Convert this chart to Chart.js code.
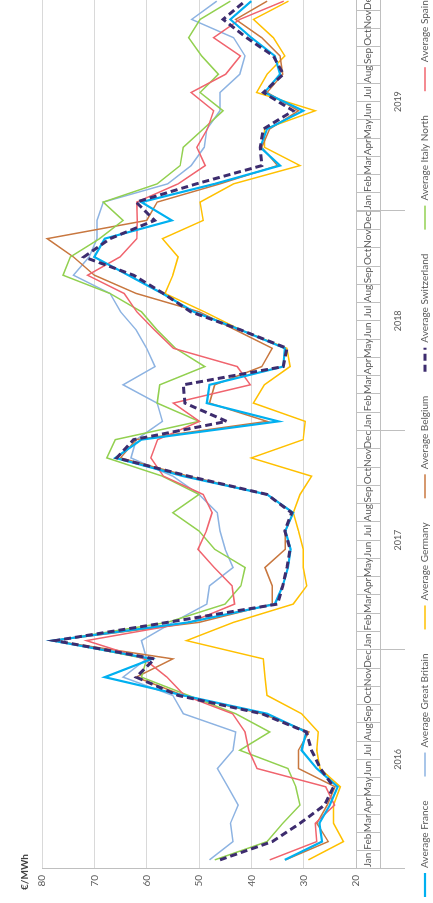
<!DOCTYPE html>
<html>
<head>
<meta charset="utf-8">
<script src="https://cdn.jsdelivr.net/npm/chart.js@4/dist/chart.umd.min.js"></script>
<style>
  html, body { margin: 0; padding: 0; background: #fff; overflow: hidden; }
  #wrap { position: relative; width: 433px; height: 903px; overflow: hidden; background: #fff; }
  #rot { position: absolute; left: 0; top: 0; width: 920px; height: 440px;
         transform-origin: 0 0; transform: translate(0px, 903px) rotate(-90deg); }
</style>
</head>
<body>
<div id="wrap"><div id="rot"><canvas id="c" width="920" height="440"></canvas></div></div>
<script>
// ---- data ----
const months = ['Jan','Feb','Mar','Apr','May','Jun','Jul','Aug','Sep','Oct','Nov','Dec'];
const years = ['2016','2017','2018','2019'];
const yTicks = [20, 30, 40, 50, 60, 70, 80];
const unitLabel = '€/MWh';
const seriesNames = ['Average France','Average Great Britain','Average Germany','Average Belgium','Average Switzerland','Average Italy North','Average Spain'];

const france = [33.6,26.5,27,25,23.5,27.5,30.4,29.5,37,53,68,59,
                78,52,35.5,34,33,32.5,33.5,32,37,53,66,61,
                34.8,48.5,48,33.9,33.6,42,51,57,63.5,70,68,55.2,
                61,47,34.5,38.3,37,30.1,37.5,34.5,35.5,40,44,40];
const greatBritain = [48,43.5,44,42.5,44.5,46.5,43.5,43,53,55,64.5,60,
                61,55,48.5,48,43.5,45,46,46.5,50,55,63,62,
                57,58,64.5,58.4,60,62,65,67,74,71,69.5,69.5,
                68.3,56,51.5,49,48.5,46,46,42.2,41.2,43.4,51.4,46.6];
const germany = [29.1,22.4,24.3,24.3,23,26.9,27.5,27.2,30.4,37,37.4,37.7,
                52.4,43.4,32,29.4,30.1,30.1,31,32,30.7,28.5,40,30.1,
                29.7,39.6,37.5,32.6,33.2,42,49,56.5,55,54,57,49.2,
                49.8,43.4,30.7,37.5,37.5,27.8,39,37,33.6,35.8,39.6,32.9];
const belgium = [33.5,25.3,27.5,25.5,24,31,31,29,38,53,62,55,
                78,50,36,36,37.4,33.5,33.5,32,37,52,65,62,
                37,48,47,38,36,43,50,62,70,74,79,60,
                58,46,35,38,36.5,31,37,34,34.5,38,43,37];
const switzerland = [46,36,30.7,26,24.3,26.8,28.5,29.5,38,54,62,58.5,
                77.5,56,35,34,33.2,32.6,33.6,32.3,37,52,65.7,62.5,
                44.7,52.7,53,33.9,33.2,42,51.6,56.8,62.5,72,67,58.5,
                62,50.5,38,38.3,37.7,32,37.7,33.9,35.8,40.9,45.4,41.2];
const italyNorth = [47,37,34,30.7,31.5,33,42.2,36.5,43,52,61,60,
                77.5,56,45,42,41.2,47,50,55,50,57,67.6,66,
                50,58,57.5,48.9,54.5,58,61,67,76,74.6,69,64.5,
                68.3,58,53.6,53,49.2,45.4,49.8,46.3,49.5,52,49.8,44];
const spain = [36.5,27.5,27.8,24.1,25.8,38.9,40.5,41.2,43.6,52.8,56.1,60.5,
                71.5,51.7,43.2,43.7,47.1,50.2,48.6,47.5,49.2,56.8,59.2,57.9,
                49.9,54.9,40.2,42.7,54.9,58.5,61.9,64.3,71.3,65.1,61.9,61.8,
                61.9,54.0,48.8,50.4,48.4,47.2,51.5,44.9,42.1,47.2,42.2,33.8];

const categoryLabels = years.flatMap(() => months);

// ---- styles ----
const FONT = 'Lato, "Liberation Sans", sans-serif';
const TXT = '#595959';
const AXIS = '#BFBFBF';

const styles = [
  { color: '#00B0F0', width: 2.2, dash: [], order: 1 },
  { color: '#8DB3E2', width: 1.5, dash: [], order: 6 },
  { color: '#FFC000', width: 1.5, dash: [], order: 5 },
  { color: '#C8773F', width: 1.5, dash: [], order: 4 },
  { color: '#3D2C6E', width: 3, dash: [7, 4], order: 0 },
  { color: '#92D050', width: 1.5, dash: [], order: 3 },
  { color: '#F0646E', width: 1.5, dash: [], order: 2 }
];
const seriesData = [france, greatBritain, germany, belgium, switzerland, italyNorth, spain];

const datasets = seriesNames.map((name, i) => ({
  label: name,
  data: seriesData[i],
  borderColor: styles[i].color,
  backgroundColor: styles[i].color,
  borderWidth: styles[i].width,
  borderDash: styles[i].dash,
  order: styles[i].order,
  pointRadius: 0,
  pointHoverRadius: 0,
  tension: 0,
  fill: false
}));

const axisBoxes = {
  id: 'axisBoxes',
  afterDraw(chart) {
    const { ctx, chartArea: a, scales: { x } } = chart;
    const half = (x.getPixelForValue(1) - x.getPixelForValue(0)) / 2;
    const r = v => Math.round(v) + 0.5;
    ctx.save();
    ctx.strokeStyle = AXIS;
    ctx.lineWidth = 1;
    ctx.beginPath();
    ctx.moveTo(a.left, r(380)); ctx.lineTo(a.right, r(380));
    for (let yi = 0; yi <= years.length; yi++) {
      const px = yi < years.length ? x.getPixelForValue(yi * 12) - half
                                   : x.getPixelForValue(years.length * 12 - 1) + half;
      ctx.moveTo(r(px), a.bottom); ctx.lineTo(r(px), 405);
    }
    ctx.stroke();
    ctx.fillStyle = TXT;
    ctx.font = '9px ' + FONT;
    ctx.textAlign = 'center';
    ctx.textBaseline = 'middle';
    years.forEach((yr, yi) => {
      const c = (x.getPixelForValue(yi * 12) + x.getPixelForValue(yi * 12 + 11)) / 2;
      ctx.fillText(yr, c, 398);
    });
    // unit label
    ctx.font = 'bold 10px ' + FONT;
    ctx.fillStyle = '#404040';
    ctx.textAlign = 'left';
    ctx.fillText(unitLabel, 13, 25);
    // legend
    ctx.font = '10px ' + FONT;
    ctx.fillStyle = TXT;
    const ly = 425, mark = 24, gapIn = 5, gapOut = 24;
    let lx = 6;
    chart.data.datasets.forEach(ds => {
      ctx.save();
      ctx.strokeStyle = ds.borderColor;
      ctx.lineWidth = ds.borderWidth;
      ctx.setLineDash(ds.borderDash || []);
      ctx.beginPath();
      ctx.moveTo(lx, ly); ctx.lineTo(lx + mark, ly);
      ctx.stroke();
      ctx.restore();
      lx += mark + gapIn;
      ctx.fillText(ds.label, lx, ly);
      lx += ctx.measureText(ds.label).width + gapOut;
    });
    ctx.restore();
  }
};

new Chart(document.getElementById('c'), {
  type: 'line',
  data: { labels: categoryLabels, datasets },
  plugins: [axisBoxes],
  options: {
    responsive: false,
    animation: false,
    devicePixelRatio: 1,
    layout: { padding: { left: 0, right: 9, top: 42, bottom: 0 } },
    scales: {
      x: {
        type: 'category',
        offset: true,
        grid: { display: true, drawOnChartArea: false, drawTicks: true, tickLength: 24, offset: true, color: AXIS },
        border: { display: true, color: AXIS },
        ticks: { autoSkip: false, maxRotation: 0, minRotation: 0, padding: -18,
                 font: { size: 10, family: FONT }, color: TXT },
        afterFit: s => { s.height = 84; }
      },
      y: {
        min: yTicks[0], max: yTicks[yTicks.length - 1],
        afterBuildTicks: s => { s.ticks = yTicks.map(v => ({ value: v })); },
        ticks: { padding: 6, font: { size: 10, family: FONT }, color: TXT },
        grid: { color: '#D9D9D9', drawTicks: false },
        border: { display: true, color: AXIS },
        afterFit: s => { s.width = 34; }
      }
    },
    plugins: {
      legend: { display: false },
      tooltip: { enabled: false },
      title: { display: false }
    }
  }
});
</script>
</body>
</html>
